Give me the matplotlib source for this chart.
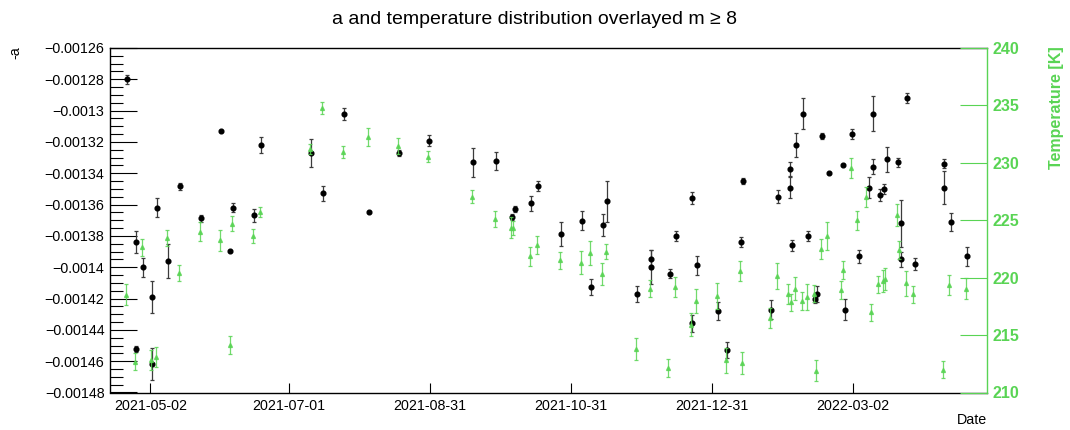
import numpy as np
import pandas as pd
import matplotlib
matplotlib.use("Agg")
import matplotlib.pyplot as plt
import matplotlib.dates as mdates
from matplotlib.ticker import FixedLocator, FuncFormatter

plt.rcParams['font.family'] = ['Liberation Sans', 'DejaVu Sans']

# ---------------------------------------------------------------- data
START_DATE = "2021-05-02"

# fit parameter a: days since START_DATE, value, uncertainty
a_days = [-10.3, -6.4, -6.3, -3.2, 0.6, 0.6, 2.8, 7.7, 12.6, 21.7,
          30.6, 34.5, 35.7, 44.8, 47.7, 69.6, 74.7, 83.8, 94.6, 107.4,
          120.6, 139.7, 149.7, 156.6, 157.7, 164.6, 167.7, 177.6, 186.7, 190.7,
          195.8, 197.6, 210.6, 216.7, 216.7, 224.8, 227.6, 234.5, 234.5, 236.7,
          245.7, 249.6, 255.6, 256.6, 268.5, 271.6, 276.7, 276.7, 277.7, 279.4,
          282.6, 284.6, 287.8, 288.5, 290.6, 293.6, 299.7, 300.8, 303.7, 306.7,
          310.9, 312.6, 312.6, 315.8, 317.7, 318.7, 323.6, 324.8, 324.8, 327.6,
          330.8, 343.6, 343.6, 346.7, 353.6]
a_values = [-0.0012799, -0.0014520, -0.0013840, -0.0013999, -0.0014189, -0.0014619, -0.0013620, -0.0013959, -0.0013483, -0.0013688,
            -0.0013129, -0.0013897, -0.0013620, -0.0013669, -0.0013220, -0.0013271, -0.0013529, -0.0013019, -0.0013650, -0.0013271,
            -0.0013191, -0.0013330, -0.0013320, -0.0013679, -0.0013631, -0.0013591, -0.0013483, -0.0013789, -0.0013703, -0.0014126,
            -0.0013730, -0.0013578, -0.0014170, -0.0013950, -0.0013999, -0.0014041, -0.0013798, -0.0013559, -0.0014359, -0.0013988,
            -0.0014280, -0.0014528, -0.0013840, -0.0013449, -0.0014270, -0.0013550, -0.0013373, -0.0013491, -0.0013861, -0.0013220,
            -0.0013019, -0.0013798, -0.0014200, -0.0014170, -0.0013163, -0.0013400, -0.0013347, -0.0014270, -0.0013152, -0.0013931,
            -0.0013491, -0.0013019, -0.0013358, -0.0013540, -0.0013500, -0.0013311, -0.0013330, -0.0013720, -0.0013950, -0.0012920,
            -0.0013980, -0.0013339, -0.0013491, -0.0013711, -0.0013931]
a_errors = [2.8e-6, 1.9e-6, 7.2e-6, 6.1e-6, 1.02e-5, 1.02e-5, 6.1e-6, 1.08e-5, 2.1e-6, 2.1e-6,
            0.6e-6, 0.6e-6, 2.8e-6, 4.0e-6, 5.1e-6, 8.9e-6, 4.7e-6, 3.8e-6, 0.6e-6, 2.1e-6,
            3.8e-6, 9.1e-6, 5.9e-6, 2.1e-6, 1.9e-6, 4.9e-6, 3.2e-6, 7.8e-6, 5.9e-6, 4.9e-6,
            7.0e-6, 1.31e-5, 5.1e-6, 5.9e-6, 1.1e-5, 3.0e-6, 3.2e-6, 4.0e-6, 5.3e-6, 6.1e-6,
            5.9e-6, 5.1e-6, 3.0e-6, 2.1e-6, 6.3e-6, 4.2e-6, 4.7e-6, 7.0e-6, 3.8e-6, 7.8e-6,
            9.9e-6, 3.2e-6, 3.0e-6, 5.1e-6, 2.1e-6, 0.6e-6, 0.6e-6, 7.0e-6, 3.2e-6, 4.2e-6,
            7.0e-6, 1.1e-5, 4.9e-6, 3.8e-6, 3.2e-6, 8.0e-6, 3.0e-6, 1.48e-5, 4.9e-6, 3.2e-6,
            3.8e-6, 2.8e-6, 1.08e-5, 5.9e-6, 5.9e-6]

# temperature: days since START_DATE, value [K], uncertainty [K]
t_days = [-10.6, -6.6, -3.7, 0.2, 2.3, 7.3, 12.5, 21.4, 30.2, 34.4,
          35.4, 44.4, 47.5, 69.2, 74.4, 83.3, 94.3, 107.3, 120.3, 139.3,
          149.1, 156.2, 157.1, 164.2, 167.3, 177.1, 186.2, 190.1, 195.3, 197.3,
          210.2, 216.2, 224.0, 227.1, 234.1, 236.1, 245.2, 249.3, 255.1, 256.2,
          268.1, 271.2, 276.0, 277.1, 279.0, 282.0, 284.2, 287.1, 288.1, 290.1,
          293.0, 299.0, 299.9, 303.1, 306.0, 309.9, 311.9, 315.1, 317.0, 318.1,
          323.0, 324.2, 327.2, 330.1, 343.1, 345.8, 352.9]
t_values = [218.53, 212.69, 222.66, 212.83, 213.12, 223.44, 220.40, 224.02, 223.24, 214.10,
            224.71, 223.64, 225.75, 231.21, 234.77, 230.95, 232.23, 231.47, 230.55, 227.05,
            225.12, 224.36, 224.36, 221.85, 222.86, 221.50, 221.30, 222.14, 220.32, 222.25,
            213.79, 219.05, 212.14, 219.16, 215.92, 217.98, 218.41, 212.80, 220.55, 212.60,
            216.45, 220.14, 218.55, 217.86, 219.05, 217.98, 218.32, 218.61, 211.91, 222.49,
            223.61, 218.93, 220.64, 229.51, 225.00, 227.02, 216.97, 219.42, 219.68, 219.88,
            225.46, 222.40, 219.51, 218.55, 211.99, 219.34, 219.02]
t_errors = [0.95, 0.75, 0.75, 0.87, 0.87, 0.69, 0.72, 0.81, 0.90, 0.78,
            0.64, 0.58, 0.43, 0.40, 0.55, 0.55, 0.78, 0.72, 0.46, 0.58,
            0.69, 0.90, 0.61, 0.84, 0.81, 0.72, 0.98, 1.01, 0.98, 0.64,
            0.98, 0.72, 0.75, 0.87, 1.01, 1.07, 1.10, 1.07, 0.87, 0.95,
            0.87, 1.16, 0.87, 0.72, 1.01, 0.81, 1.10, 0.75, 0.95, 0.87,
            1.21, 0.75, 0.78, 0.87, 0.84, 0.90, 0.78, 0.72, 0.95, 0.92,
            0.92, 0.75, 1.10, 0.72, 0.72, 0.87, 0.92]

date_tick_labels = ["2021-05-02", "2021-07-01", "2021-08-31",
                    "2021-10-31", "2021-12-31", "2022-03-02"]
a_range = (-0.00148, -0.00126)
t_range = (210, 240)
t_tick_values = [210, 215, 220, 225, 230, 235, 240]

TITLE = "a and temperature distribution overlayed m \u2265 8"

# ---------------------------------------------------------------- style
GREEN = "#59d454"
W, H = 1070, 430

fig = plt.figure(figsize=(W / 100, H / 100), dpi=100)
fig.patch.set_facecolor("white")
x0, x1, y0, y1 = 110, 987, 48, 392.5
ax = fig.add_axes([x0 / W, 1 - y1 / H, (x1 - x0) / W, (y1 - y0) / H])

t0 = mdates.date2num(pd.Timestamp(START_DATE).to_pydatetime())
a_x = t0 + np.asarray(a_days)
t_x = t0 + np.asarray(t_days)

ax.errorbar(a_x, a_values, yerr=a_errors, fmt="o", color="black",
            ms=3.4, mec="black", ecolor="#3c3c3c", elinewidth=0.9,
            capsize=1.2, capthick=0.9, zorder=3)

ax.set_xlim(t0 - 17.5, t0 + 362.1)
ax.set_ylim(*a_range)

# x axis: dated ticks with two minor subdivisions
major = np.array([mdates.date2num(pd.Timestamp(s).to_pydatetime()) for s in date_tick_labels])
step = np.mean(np.diff(major))
minor = []
for k in range(-2, len(major) + 2):
    base = major[0] + k * step if (k < 0 or k >= len(major)) else major[k]
    nxt = base + step if k + 1 >= len(major) or k < 0 else major[k + 1]
    for f in (1 / 3, 2 / 3):
        minor.append(base + f * (nxt - base))
for k in range(len(major), len(major) + 2):
    minor.append(major[0] + k * step)
lo, hi = ax.get_xlim()
minor = [m for m in minor if lo < m < hi and not np.any(np.isclose(m, major))]
ax.xaxis.set_major_locator(FixedLocator(major))
ax.xaxis.set_minor_locator(FixedLocator(minor))
ax.xaxis.set_major_formatter(FuncFormatter(lambda v, p: mdates.num2date(v).strftime("%Y-%m-%d")))

# y axis (a)
a_major = np.arange(a_range[0], a_range[1] + 1e-9, 0.00002)
a_minor = np.arange(a_range[0], a_range[1] + 1e-9, 0.000005)
ax.yaxis.set_major_locator(FixedLocator(a_major))
ax.yaxis.set_minor_locator(FixedLocator(a_minor))


def fmt_a(v, pos):
    s = f"{abs(v):.5f}".rstrip("0")
    return ("\u2212" if v < 0 else "") + s


ax.yaxis.set_major_formatter(FuncFormatter(fmt_a))

ax.tick_params(axis="y", which="major", direction="in", length=19.4, width=0.8,
               labelsize=10.3, pad=4, right=False)
ax.tick_params(axis="y", which="minor", direction="in", length=9.4, width=0.8, right=False)
ax.tick_params(axis="x", which="major", direction="in", length=7.2, width=0.8,
               labelsize=10.3, pad=5, top=False)
ax.tick_params(axis="x", which="minor", direction="in", length=3.6, width=0.8, top=False)
for sp in ax.spines.values():
    sp.set_linewidth(1.0)
    sp.set_color("black")
ax.spines["right"].set_visible(False)

# temperature on an overlaid right-hand axis
ax2 = ax.twinx()
ax2.errorbar(t_x, t_values, yerr=t_errors, fmt="^", color=GREEN, ms=2.8,
             mec=GREEN, ecolor=GREEN, elinewidth=0.9, capsize=1.2,
             capthick=0.9, alpha=0.85, zorder=3)
ax2.set_ylim(*t_range)
ax2.set_yticks(t_tick_values)
ax2.set_yticklabels([str(v) for v in t_tick_values], fontweight="bold")
ax2.tick_params(axis="y", direction="in", length=19.4, width=0.8, color=GREEN,
                labelcolor=GREEN, labelsize=11.5, pad=4)
ax2.minorticks_off()
for side in ("left", "top", "bottom"):
    ax2.spines[side].set_visible(False)
ax2.spines["right"].set_color(GREEN)
ax2.spines["right"].set_linewidth(1.0)

# titles
fig.text(0.5, 1 - 19 / H, TITLE, ha="center", va="center", fontsize=14)
fig.text(15 / W, 1 - 46 / H, "-a", rotation=90, ha="center", va="top", fontsize=10.3)
fig.text(1057 / W, 1 - 46 / H, "Temperature [K]", rotation=90, ha="center",
         va="top", fontsize=11.5, fontweight="bold", color=GREEN)
fig.text(987 / W, 1 - 420 / H, "Date", ha="right", va="center", fontsize=10.3)

fig.savefig("out.png", dpi=100, facecolor="white")
